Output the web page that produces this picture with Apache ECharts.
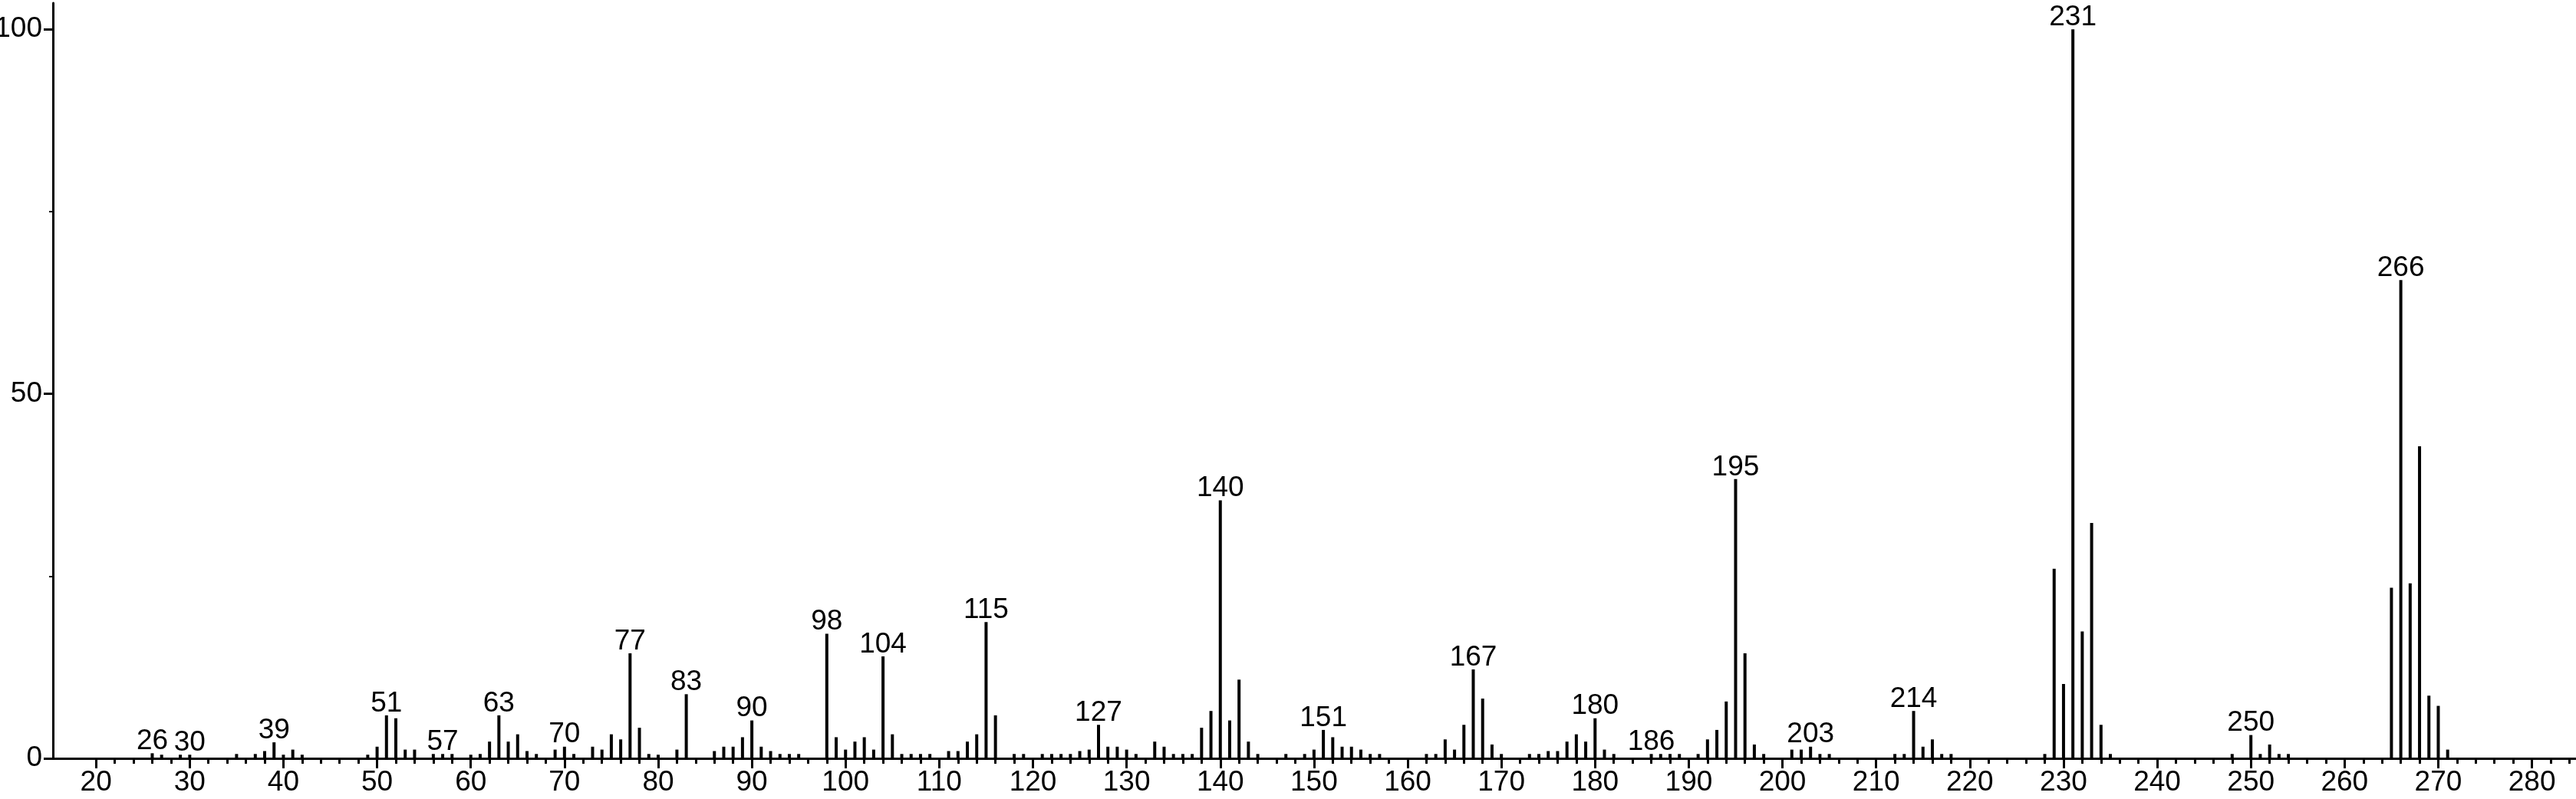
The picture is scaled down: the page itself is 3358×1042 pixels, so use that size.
<!DOCTYPE html>
<html><head><meta charset="utf-8">
<script src="https://cdn.jsdelivr.net/npm/echarts@6/dist/echarts.min.js"></script>
<style>html,body{margin:0;padding:0;background:#fff}#c{width:3358px;height:1042px}</style>
</head><body><div id="c"></div>
<script>
const mz = [26,27,29,30,35,37,38,39,40,41,42,49,50,51,52,53,54,56,57,58,60,61,62,63,64,65,66,67,69,70,71,73,74,75,76,77,78,79,80,82,83,86,87,88,89,90,91,92,93,94,95,98,99,100,101,102,103,104,105,106,107,108,109,111,112,113,114,115,116,118,119,121,122,123,124,125,126,127,128,129,130,131,133,134,135,136,137,138,139,140,141,142,143,144,147,149,150,151,152,153,154,155,156,157,162,163,164,165,166,167,168,169,170,173,174,175,176,177,178,179,180,181,182,186,187,188,189,191,192,193,194,195,196,197,198,201,202,203,204,205,212,213,214,215,216,217,218,228,229,230,231,232,233,234,235,248,250,251,252,253,254,265,266,267,268,269,270,271];
const intensity = [0.7,0.5,0.5,0.5,0.6,0.6,1.0,2.2,0.5,1.2,0.5,0.5,1.6,5.9,5.5,1.2,1.2,0.6,0.6,0.6,0.5,0.6,2.3,5.9,2.3,3.3,1.0,0.6,1.2,1.6,0.6,1.6,1.2,3.3,2.6,14.4,4.2,0.6,0.5,1.2,8.8,1.0,1.6,1.6,2.9,5.2,1.6,1.0,0.6,0.6,0.6,17.1,2.9,1.2,2.3,2.9,1.2,14.0,3.3,0.6,0.6,0.6,0.6,1.0,1.0,2.3,3.3,18.7,5.9,0.6,0.6,0.6,0.6,0.6,0.6,1.0,1.2,4.6,1.6,1.6,1.2,0.6,2.3,1.6,0.6,0.6,0.6,4.2,6.5,35.4,5.2,10.8,2.3,0.6,0.6,0.6,1.2,3.9,2.9,1.6,1.6,1.2,0.6,0.6,0.6,0.6,2.6,1.2,4.6,12.2,8.2,1.9,0.6,0.6,0.6,1.0,1.0,2.3,3.3,2.3,5.5,1.2,0.6,0.6,0.6,0.6,0.6,0.6,2.6,3.9,7.8,38.3,14.4,1.9,0.6,1.2,1.2,1.6,0.6,0.6,0.6,0.6,6.5,1.6,2.6,0.6,0.6,0.6,26.0,10.2,100,17.4,32.3,4.6,0.6,0.6,3.2,0.6,1.9,0.6,0.6,23.4,65.6,24.0,42.8,8.6,7.2,1.2];
const labeledPeaks = [26,30,39,51,57,63,70,77,83,90,98,104,115,127,140,151,167,180,186,195,203,214,231,250,266];
const xTickLabels = [20,30,40,50,60,70,80,90,100,110,120,130,140,150,160,170,180,190,200,210,220,230,240,250,260,270,280];
const yTickLabels = [0,50,100];
const yMinorTicks = [25,75];

const xMinorTicks = [];
for (let v = 22; v <= 284; v += 2) xMinorTicks.push(v);

const FONT = '"Liberation Sans Narrow", "Liberation Sans", Arial, sans-serif';
const FS = 37;
const XMIN = 15.4, XMAX = 284.7, YMAX = 103.6;

const data = mz.map((m, i) => {
  const item = { value: [m, intensity[i]] };
  if (labeledPeaks.includes(m)) item.label = { show: true };
  return item;
});

const chart = echarts.init(document.getElementById('c'), null, { renderer: 'canvas' });
chart.setOption({
  animation: false,
  backgroundColor: '#fff',
  grid: { left: 69, right: 0, top: 4, bottom: 53, containLabel: false, outerBoundsMode: 'none' },
  xAxis: [
    {
      type: 'value', min: XMIN, max: XMAX, position: 'bottom', offset: 0,
      axisLine: { show: true, onZero: false, lineStyle: { color: '#000', width: 3 } },
      axisTick: { show: true, customValues: xMinorTicks, length: 7, lineStyle: { color: '#000', width: 3 } },
      axisLabel: { show: false },
      splitLine: { show: false }
    },
    {
      type: 'value', min: XMIN, max: XMAX, position: 'bottom', offset: 0,
      axisLine: { show: false },
      axisTick: { show: true, customValues: xTickLabels, length: 13, lineStyle: { color: '#000', width: 3 } },
      axisLabel: { show: true, customValues: xTickLabels, margin: 13, color: '#000', fontSize: FS, fontFamily: FONT },
      splitLine: { show: false }
    }
  ],
  yAxis: [
    {
      type: 'value', min: 0, max: YMAX, position: 'left', offset: 0,
      axisLine: { show: true, lineStyle: { color: '#000', width: 3 } },
      axisTick: { show: true, customValues: yMinorTicks, length: 5, lineStyle: { color: '#000', width: 2 } },
      axisLabel: { show: false },
      splitLine: { show: false }
    },
    {
      type: 'value', min: 0, max: YMAX, position: 'left', offset: 0,
      axisLine: { show: false },
      axisTick: { show: true, customValues: yTickLabels, length: 12, lineStyle: { color: '#000', width: 3 } },
      axisLabel: { show: true, customValues: yTickLabels, margin: 14, color: '#000', fontSize: FS, fontFamily: FONT },
      splitLine: { show: false }
    }
  ],
  series: [{
    type: 'bar',
    xAxisIndex: 0, yAxisIndex: 0,
    barWidth: 4,
    itemStyle: { color: '#000' },
    label: {
      show: false, position: 'top', distance: -3, color: '#000',
      fontSize: FS, fontFamily: FONT,
      formatter: p => String(p.value[0])
    },
    data: data
  }]
});
</script></body></html>
